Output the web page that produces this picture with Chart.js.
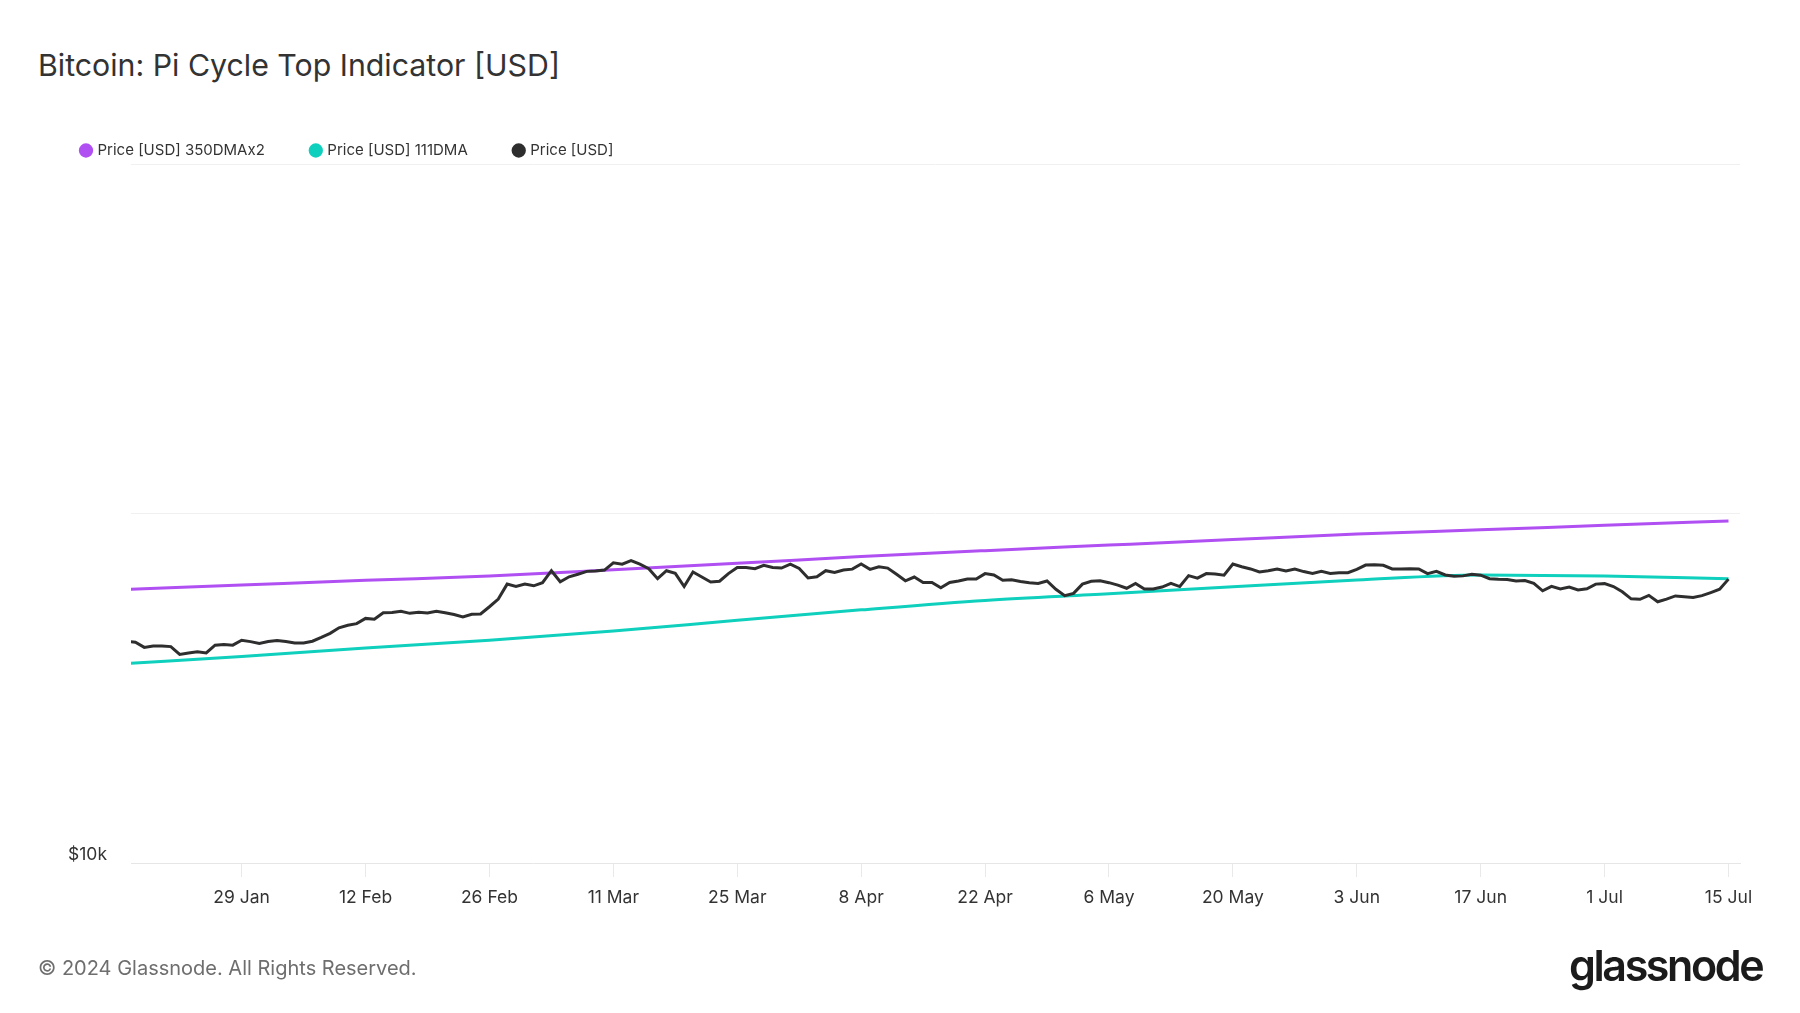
<!DOCTYPE html>
<html>
<head>
<meta charset="utf-8">
<script src="https://cdn.jsdelivr.net/npm/chart.js@4.4.1/dist/chart.umd.min.js"></script>
<style>
  body { margin: 0; background: #fff; width: 1800px; height: 1013px; overflow: hidden; position: relative; font-family: Inter, "Noto Sans", sans-serif; }
  #chart { position: absolute; left: 0; top: 0; }
  .title { position: absolute; left: 38px; top: 45px; font-size: 30.3px; color: #333; line-height: 40px; }
  .copy { position: absolute; left: 38px; top: 955px; font-size: 20px; color: #6e6e6e; line-height: 26px; }
  .logo { position: absolute; left: 1569px; top: 939px; font-size: 43px; font-weight: 600; color: #1b1b1b; letter-spacing: -2.4px; line-height: 52px; }
</style>
</head>
<body>
<div class="title">Bitcoin: Pi Cycle Top Indicator [USD]</div>
<canvas id="chart" width="1800" height="1013"></canvas>
<div class="copy">© 2024 Glassnode. All Rights Reserved.</div>
<div class="logo">glassnode</div>
<script>
// daily BTC price (USD), 16 Jan 2024 .. 15 Jul 2024
const priceStart = '2024-01-16';
const priceJan = [43100, 42800, 41400, 41800, 41800, 41600, 39500, 39900, 40200, 39900, 42000, 42200, 42000, 43400, 43000, 42500];
const priceFeb = [43000, 43300, 43000, 42600, 42600, 43100, 44200, 45400, 47100, 47900, 48400, 50100, 49800, 52000, 52100, 52500,
  51800, 52200, 51900, 52500, 52000, 51400, 50600, 51500, 51600, 54100, 56900, 62800, 61800];
const priceMar = [62800, 62100, 63400, 68600, 63800, 65900, 67000, 68300, 68500, 68900, 72300, 71600, 73300, 71600, 69500, 65100,
  68600, 67400, 61800, 68000, 65800, 63700, 64000, 67300, 70100, 70100, 69500, 71100, 70100, 69800, 71600];
const priceApr = [69600, 65400, 65900, 68600, 67800, 68900, 69300, 71700, 69200, 70400, 69800, 67000, 64200, 65800, 63500, 63500,
  61300, 63500, 64100, 64900, 64900, 67300, 66700, 64400, 64600, 63900, 63400, 63100, 64100, 60700];
const priceMay = [58200, 59100, 62800, 64000, 64200, 63400, 62400, 61100, 63100, 60800, 60800, 61600, 63100, 61800, 66400, 65300,
  67300, 67100, 66600, 71700, 70400, 69400, 68000, 68600, 69400, 68500, 69400, 68200, 67400, 68300, 67400];
const priceJun = [67700, 67700, 69200, 71200, 71400, 71100, 69400, 69400, 69500, 69400, 67300, 68300, 66700, 66100, 66300, 67000,
  66600, 65100, 64800, 64700, 64100, 64300, 63100, 60100, 61900, 60800, 61600, 60400, 60900, 62800];
const priceJul = [63000, 61800, 59700, 57000, 56800, 58300, 55900, 56900, 58100, 57800, 57500, 58200, 59400, 60700, 64900];

// moving averages every two weeks
const maDates = ['2024-01-16', '2024-01-29', '2024-02-12', '2024-02-26', '2024-03-11', '2024-03-25', '2024-04-08',
  '2024-04-22', '2024-05-06', '2024-05-20', '2024-06-03', '2024-06-17', '2024-07-01', '2024-07-15'];
const dma350x2 = [60600, 62400, 64400, 66200, 69000, 72000, 75300, 78300, 81200, 84200, 87300, 89800, 92500, 95200];
const dma111 = [37200, 39000, 41200, 43400, 46100, 49500, 53000, 56400, 58900, 61700, 64500, 66700, 66200, 65100];

const tickDates = ['2024-01-29', '2024-02-12', '2024-02-26', '2024-03-11', '2024-03-25', '2024-04-08', '2024-04-22',
  '2024-05-06', '2024-05-20', '2024-06-03', '2024-06-17', '2024-07-01', '2024-07-15'];
const tickLabels = ['29 Jan', '12 Feb', '26 Feb', '11 Mar', '25 Mar', '8 Apr', '22 Apr', '6 May', '20 May', '3 Jun', '17 Jun', '1 Jul', '15 Jul'];
const yTicks = [10000, 100000, 1000000];
const yLabels = ['$10k', '', ''];

const DAY = 86400000;
const t0 = Date.parse(priceStart);
const dayOf = s => (Date.parse(s) - t0) / DAY;

const price = [].concat(priceJan, priceFeb, priceMar, priceApr, priceMay, priceJun, priceJul);
const pricePts = price.map((v, i) => ({ x: i, y: v }));
const slowPts = maDates.map((d, i) => ({ x: dayOf(d), y: dma350x2[i] }));
const fastPts = maDates.map((d, i) => ({ x: dayOf(d), y: dma111[i] }));
const tickDays = tickDates.map(dayOf);

Chart.defaults.font.family = 'Inter, "Noto Sans", sans-serif';
Chart.defaults.color = '#333';

new Chart(document.getElementById('chart'), {
  type: 'line',
  data: {
    datasets: [
      { label: 'Price [USD] 350DMAx2', data: slowPts, borderColor: '#b04ff2', backgroundColor: '#b04ff2',
        borderWidth: 3, pointRadius: 0, cubicInterpolationMode: 'monotone' },
      { label: 'Price [USD] 111DMA', data: fastPts, borderColor: '#0fcfbd', backgroundColor: '#0fcfbd',
        borderWidth: 3, pointRadius: 0, cubicInterpolationMode: 'monotone' },
      { label: 'Price [USD]', data: pricePts, borderColor: '#2e2e2e', backgroundColor: '#2e2e2e',
        borderWidth: 3, pointRadius: 0, tension: 0, order: -1 }
    ]
  },
  options: {
    responsive: false,
    animation: false,
    layout: { padding: { left: 35, right: 60, top: 96, bottom: 0 } },
    plugins: {
      tooltip: { enabled: false },
      legend: {
        align: 'start',
        maxHeight: 68,
        labels: { usePointStyle: true, pointStyle: 'circle', boxWidth: 8, boxHeight: 8, padding: 47,
          font: { size: 15 }, color: '#333',
          sort: (a, b) => a.datasetIndex - b.datasetIndex }
      }
    },
    scales: {
      x: {
        type: 'linear',
        min: 0.5,
        max: 182.3,
        afterBuildTicks: s => { s.ticks = tickDays.map(v => ({ value: v })); },
        afterFit: s => { s.height = 150; },
        ticks: { autoSkip: false, maxRotation: 0, padding: 10, font: { size: 17.5 },
          callback: (v) => tickLabels[tickDays.indexOf(v)] },
        grid: { drawOnChartArea: false, tickLength: 14, color: '#e9e9e9' },
        border: { color: '#e6e6e6' }
      },
      y: {
        type: 'logarithmic',
        min: 10000,
        max: 1000000,
        afterBuildTicks: s => { s.ticks = yTicks.map(v => ({ value: v })); },
        afterFit: s => { s.width = 96; },
        ticks: { padding: 24, labelOffset: -8, font: { size: 17.5 },
          callback: (v) => yLabels[yTicks.indexOf(v)] },
        grid: { drawTicks: false, color: '#f0f0f0' },
        border: { display: false }
      }
    }
  }
});
</script>
</body>
</html>
